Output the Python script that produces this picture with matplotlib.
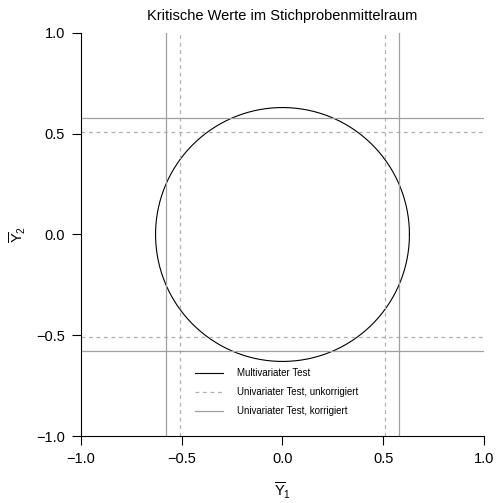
import numpy as np
import matplotlib
matplotlib.use("Agg")
import matplotlib.pyplot as plt

# critical values
r_multi = 0.63          # radius of the multivariate critical circle
c_unkorr = 0.51         # univariate, uncorrected
c_korr = 0.58           # univariate, corrected
ticks = [-1.0, -0.5, 0.0, 0.5, 1.0]
tick_labels = ["\u22121.0", "\u22120.5", "0.0", "0.5", "1.0"]
legend_labels = ["Multivariater Test", "Univariater Test, unkorrigiert", "Univariater Test, korrigiert"]

plt.rcParams['font.family'] = ['Liberation Sans', 'DejaVu Sans']
plt.rcParams['mathtext.fontset'] = 'custom'
plt.rcParams['mathtext.rm'] = 'Liberation Sans'
plt.rcParams['mathtext.it'] = 'Liberation Sans'

fig = plt.figure(figsize=(4.96, 5.03), dpi=100)
ax = fig.add_axes([0.1633, 0.1332, 0.8125, 0.8012])

phi = np.linspace(0, 2*np.pi, 400)
l1, = ax.plot(r_multi*np.cos(phi), r_multi*np.sin(phi), color='black', lw=0.8)

dash_col = '#b0b0b0'
solid_col = '#a0a0a0'
for s in (-1, 1):
    l2 = ax.axvline(s*c_unkorr, color=dash_col, lw=0.9, ls=(0, (3, 3)))
    ax.axhline(s*c_unkorr, color=dash_col, lw=0.9, ls=(0, (3, 3)))
    l3 = ax.axvline(s*c_korr, color=solid_col, lw=0.9)
    ax.axhline(s*c_korr, color=solid_col, lw=0.9)

ax.set_xlim(-1, 1)
ax.set_ylim(-1, 1)
ax.set_xticks(ticks)
ax.set_xticklabels(tick_labels)
ax.set_yticks(ticks)
ax.set_yticklabels(tick_labels)
ax.tick_params(direction='out', length=6.5, width=0.8, labelsize=10.5, pad=5)
ax.spines['top'].set_visible(False)
ax.spines['right'].set_visible(False)
ax.spines['left'].set_linewidth(0.8)
ax.spines['bottom'].set_linewidth(0.8)

ax.set_xlabel(r'$\overline{\mathrm{Y}}_1$', fontsize=10.5, labelpad=11)
ax.set_ylabel(r'$\overline{\mathrm{Y}}_2$', fontsize=10.5, labelpad=6)
ax.set_title("Kritische Werte im Stichprobenmittelraum", fontsize=10.5, pad=9)

ax.legend([l1, l2, l3], legend_labels, loc='upper left',
          bbox_to_anchor=(195/496, 1 - 368/503), bbox_transform=fig.transFigure,
          frameon=False, fontsize=7, handlelength=2.9, labelspacing=0.95,
          handletextpad=1.45, borderpad=0, borderaxespad=0)

fig.savefig("out.png", dpi=100)
